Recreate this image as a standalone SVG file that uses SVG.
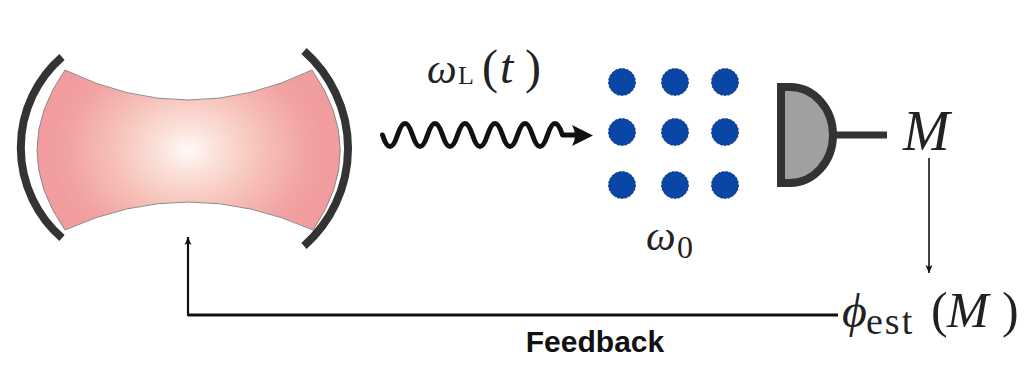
<svg xmlns="http://www.w3.org/2000/svg" width="1032" height="371" viewBox="0 0 1032 371">
  <defs>
    <radialGradient id="beam" gradientUnits="userSpaceOnUse" cx="188" cy="150" r="140" gradientTransform="translate(188 150) scale(1 0.8) translate(-188 -150)">
      <stop offset="0" stop-color="#fffaf8"/>
      <stop offset="0.2" stop-color="#fbe2da"/>
      <stop offset="0.55" stop-color="#f6bfb6"/>
      <stop offset="0.85" stop-color="#f2a3a4"/>
      <stop offset="1" stop-color="#f19c9f"/>
    </radialGradient>
    <marker id="tipS" markerWidth="10" markerHeight="10" refX="8" refY="5" orient="auto" markerUnits="userSpaceOnUse">
      <path d="M0,1.5 L8,5 L0,8.5 L2,5 Z" fill="#111"/>
    </marker>
  </defs>
  <style>
    .mirror { fill: none; stroke: #333; stroke-width: 8; }
    .math { font-family: "Liberation Serif", "DejaVu Serif", serif; fill: #222; }
    .it { font-style: italic; }
    .wire { fill: none; stroke: #111; }
    .atom { fill: #0a46a6; stroke: #1a2a55; stroke-width: 0.8; stroke-dasharray: 2 2; }
    .label { font-family: "Liberation Sans", Arial, sans-serif; font-weight: bold; font-size: 30px; fill: #111; }
  </style>

  <!-- optical cavity: two curved mirrors around the intracavity mode -->
  <g id="cavity">
    <path d="M65 70 Q188 130 312 70 Q368 150 313 230 Q188 174 65 230 Q9 150 65 70 Z" fill="url(#beam)" stroke="#8a8a8a" stroke-width="1"/>
    <path class="mirror" d="M62 57 A120 120 0 0 0 62 238"/>
    <path class="mirror" d="M304 51 A130 130 0 0 1 304 246"/>
  </g>

  <!-- probe laser -->
  <g id="laser">
    <path class="wire" stroke-width="5" stroke-linecap="round" stroke-linejoin="round" d="M382.5 135 q7.5 23 15 0 t15 0 t15 0 t15 0 t15 0 t15 0 t15 0 t15 0 t15 0 t15 0 t15 0 t15 0 L578 135"/>
    <path d="M593 135.5 L572 125 Q578 135.5 572 146 Z" fill="#111"/>
    <text class="math it" x="427" y="83" font-size="42">ω</text>
    <text class="math" x="458" y="84" font-size="26">L</text>
    <text class="math" x="482" y="83" font-size="48">(</text>
    <text class="math it" x="500" y="83" font-size="48">t</text>
    <text class="math" x="525" y="83" font-size="48">)</text>
  </g>

  <!-- atomic ensemble -->
  <g id="atoms">
    <circle class="atom" cx="622" cy="82" r="13.5"/>
    <circle class="atom" cx="675" cy="82" r="13.5"/>
    <circle class="atom" cx="725" cy="82" r="13.5"/>
    <circle class="atom" cx="622" cy="132" r="13.5"/>
    <circle class="atom" cx="675" cy="132" r="13.5"/>
    <circle class="atom" cx="725" cy="132" r="13.5"/>
    <circle class="atom" cx="622" cy="185" r="13.5"/>
    <circle class="atom" cx="675" cy="185" r="13.5"/>
    <circle class="atom" cx="725" cy="185" r="13.5"/>
    <text class="math it" x="646" y="250" font-size="42">ω</text>
    <text class="math" x="677" y="258" font-size="32">0</text>
  </g>

  <!-- photodetector -->
  <g id="detector">
    <path d="M781 87 L790 87 A43 48 0 0 1 790 183 L781 183 Z" fill="#a0a0a0" stroke="#333" stroke-width="8"/>
    <path d="M833 135 L887 135" stroke="#333" stroke-width="7"/>
    <text class="math it" x="903" y="150" font-size="56">M</text>
  </g>

  <!-- phase estimate -->
  <g id="estimate">
    <text class="math it" x="842" y="327" font-size="48">ϕ</text>
    <text class="math" x="866" y="334" font-size="38" letter-spacing="2">est</text>
    <text class="math" x="931" y="327" font-size="50">(</text>
    <text class="math it" x="947" y="327" font-size="50">M</text>
    <text class="math" x="1002" y="327" font-size="50">)</text>
  </g>

  <!-- measurement and feedback connectors -->
  <g id="connectors">
    <path class="wire" stroke-width="1.6" d="M929 158 L929 273" marker-end="url(#tipS)"/>
    <path class="wire" stroke-width="3" d="M838 315 L188 315"/>
    <path class="wire" stroke-width="2.2" d="M188 316 L188 237" marker-end="url(#tipS)"/>
    <text class="label" x="595" y="352" text-anchor="middle">Feedback</text>
  </g>
</svg>
